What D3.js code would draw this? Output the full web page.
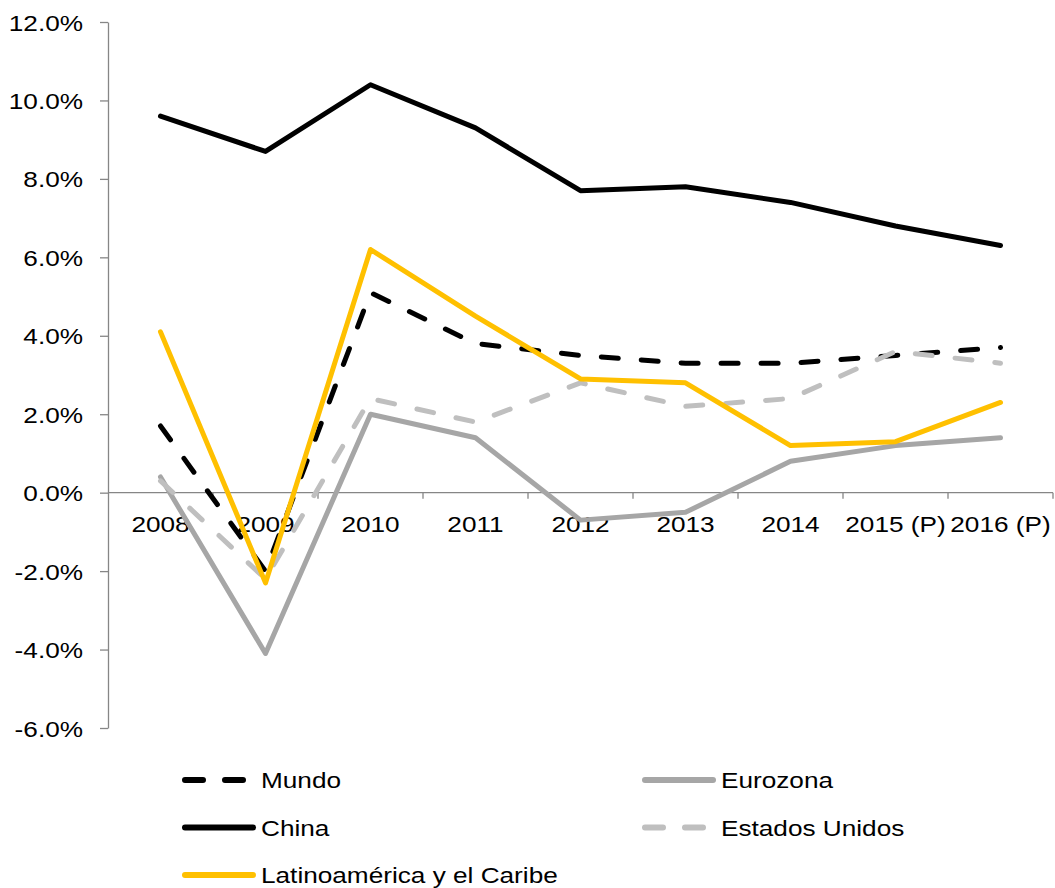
<!DOCTYPE html>
<html>
<head>
<meta charset="utf-8">
<script src="https://cdn.jsdelivr.net/npm/d3@7/dist/d3.min.js"></script>
<style>
  html, body { margin: 0; padding: 0; background: #fff; }
  svg { display: block; }
  text { font-family: "Liberation Sans", Arial, sans-serif; font-size: 22px; fill: #000; }
</style>
</head>
<body>
<svg id="chart" width="1055" height="888"></svg>
<script>
const categories = ["2008", "2009", "2010", "2011", "2012", "2013", "2014", "2015 (P)", "2016 (P)"];
const mundo    = [1.7, -2.0, 5.1, 3.8, 3.5, 3.3, 3.3, 3.5, 3.7];
const eurozona = [0.4, -4.1, 2.0, 1.4, -0.7, -0.5, 0.8, 1.2, 1.4];
const china    = [9.6, 8.7, 10.4, 9.3, 7.7, 7.8, 7.4, 6.8, 6.3];
const eeuu     = [0.3, -2.2, 2.4, 1.8, 2.8, 2.2, 2.4, 3.6, 3.3];
const latam    = [4.1, -2.3, 6.2, 4.5, 2.9, 2.8, 1.2, 1.3, 2.3];
const yTicks   = [-6, -4, -2, 0, 2, 4, 6, 8, 10, 12];

const series = [
  { name: "Mundo", values: mundo, color: "#000000", dash: "17 23" },
  { name: "Eurozona", values: eurozona, color: "#a6a6a6", dash: null },
  { name: "China", values: china, color: "#000000", dash: null },
  { name: "Estados Unidos", values: eeuu, color: "#bfbfbf", dash: "17 23" },
  { name: "Latinoamérica y el Caribe", values: latam, color: "#ffc000", dash: null }
];

const SX = 1.19; // horizontal text stretch
const svg = d3.select("#chart");
const x = d3.scaleBand().domain(categories).range([108, 1053]).paddingInner(0).paddingOuter(0);
const y = d3.scaleLinear().domain([-6, 12]).range([728, 22]);
const axisColor = "#868686";

// Y axis
const gy = svg.append("g").attr("transform", "translate(108,0)")
  .call(d3.axisLeft(y).tickValues(yTicks).tickSize(8).tickSizeOuter(0)
    .tickFormat(d => d.toFixed(1) + "%"));
gy.select(".domain").attr("stroke", axisColor).attr("stroke-width", 1.3);
gy.selectAll(".tick line").attr("stroke", axisColor).attr("stroke-width", 1.3);
gy.selectAll(".tick text")
  .attr("x", null).attr("dy", null)
  .attr("transform", `translate(-25,8) scale(${SX},1)`)
  .attr("text-anchor", "end")
  .style("font-size", "22px").style("font-family", "'Liberation Sans', Arial, sans-serif").attr("fill", "#000");

// X axis at zero
const y0 = y(0);
svg.append("line").attr("x1", x.range()[0]).attr("x2", x.range()[1])
  .attr("y1", y0).attr("y2", y0).attr("stroke", axisColor).attr("stroke-width", 1.3);
svg.selectAll(".xtick").data(categories.map(c => x(c) + x.bandwidth())).enter().append("line")
  .attr("x1", d => d).attr("x2", d => d).attr("y1", y0).attr("y2", y0 + 6)
  .attr("stroke", axisColor).attr("stroke-width", 1.3);
svg.selectAll(".xlabel").data(categories).enter().append("text")
  .attr("transform", d => `translate(${x(d) + x.bandwidth() / 2},${y0 + 39.5}) scale(${SX},1)`)
  .attr("text-anchor", "middle").text(d => d);

// Lines
const line = d3.line().x((d, i) => x(categories[i]) + x.bandwidth() / 2).y(d => y(d));
series.forEach(s => {
  svg.append("path").datum(s.values)
    .attr("d", line).attr("fill", "none")
    .attr("stroke", s.color).attr("stroke-width", 5)
    .attr("stroke-linejoin", "round")
    .attr("stroke-linecap", "round")
    .attr("stroke-dasharray", s.dash);
});

// Legend
const legendPos = [
  { name: "Mundo", lx: 185, ty: 779 },
  { name: "Eurozona", lx: 645, ty: 779 },
  { name: "China", lx: 185, ty: 826.5 },
  { name: "Estados Unidos", lx: 645, ty: 826.5 },
  { name: "Latinoamérica y el Caribe", lx: 185, ty: 874 }
];
legendPos.forEach(p => {
  const s = series.find(q => q.name === p.name);
  const g = svg.append("g");
  g.append("line").attr("x1", p.lx).attr("x2", p.lx + (s.dash ? 62 : 68))
    .attr("y1", p.ty + 1).attr("y2", p.ty + 1)
    .attr("stroke", s.color).attr("stroke-width", 6).attr("stroke-linecap", "round")
    .attr("stroke-dasharray", s.dash ? "18 22" : null);
  g.append("text").attr("transform", `translate(${p.lx + 76},${p.ty + 9}) scale(${SX},1)`)
    .text(s.name);
});
</script>
</body>
</html>
